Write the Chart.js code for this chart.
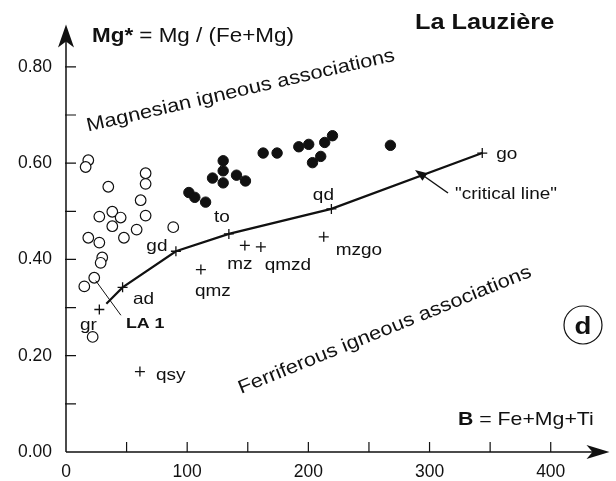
<!DOCTYPE html>
<html>
<head>
<meta charset="utf-8">
<script src="https://cdn.jsdelivr.net/npm/chart.js@4.4.1/dist/chart.umd.min.js"></script>
<style>
  html, body { margin: 0; padding: 0; background: #fff; }
  #wrap { width: 616px; height: 481px; }
</style>
</head>
<body>
<div id="wrap"><canvas id="chart" width="616" height="481"></canvas></div>
<script>
// ===== DATA =====
var xTicks = [0, 100, 200, 300, 400];
var yTicks = [0, 0.2, 0.4, 0.6, 0.8];

// open circles
var openX = [18.4, 16.2, 34.9, 65.7, 65.7, 61.6, 27.5, 38.2, 45.1, 65.7, 38.2, 58.3, 47.8, 18.4, 27.5, 88.5, 29.9, 28.6, 23.3, 15.1, 22.0];
var openY = [0.606, 0.592, 0.551, 0.579, 0.557, 0.523, 0.489, 0.499, 0.487, 0.491, 0.469, 0.462, 0.445, 0.445, 0.435, 0.467, 0.404, 0.393, 0.362, 0.344, 0.239];

// filled circles
var fullX = [101.4, 106.3, 115.2, 120.9, 129.7, 129.7, 129.7, 140.7, 148.1, 162.7, 174.2, 192.1, 200.3, 213.5, 219.9, 210.2, 203.4, 267.7];
var fullY = [0.539, 0.529, 0.519, 0.569, 0.605, 0.584, 0.559, 0.575, 0.563, 0.621, 0.621, 0.634, 0.639, 0.643, 0.657, 0.614, 0.601, 0.637];

// reference rocks (crosses)
var refNames = ['gr', 'ad', 'gd', 'to', 'qd', 'go', 'qmz', 'mz', 'qmzd', 'mzgo', 'qsy'];
var refX = [27.5, 46.7, 90.7, 134.4, 219.0, 343.5, 111.3, 147.6, 160.8, 212.7, 61.0];
var refY = [0.296, 0.342, 0.417, 0.453, 0.505, 0.621, 0.379, 0.429, 0.426, 0.447, 0.167];

// "critical line"
var lineX = [33.3, 46.7, 90.7, 134.4, 219.0, 343.5];
var lineY = [0.308, 0.342, 0.417, 0.453, 0.505, 0.621];

// LA 1 leader
var la1X = [24.5, 45.3];
var la1Y = [0.356, 0.284];

function toPoints(xs, ys) {
  return xs.map(function(x, i) { return { x: x, y: ys[i] }; });
}

// ===== TEXT HELPERS =====
var FONT = '"Liberation Sans", Arial, Helvetica, sans-serif';
var SX = 1.15; // the lettering in the figure is a bit wide

function drawParts(ctx, parts, x, y, angle, align) {
  ctx.save();
  ctx.translate(x, y);
  if (angle) ctx.rotate(angle * Math.PI / 180);
  ctx.scale(SX, 1);
  ctx.fillStyle = '#111';
  ctx.textBaseline = 'alphabetic';
  ctx.textAlign = 'left';
  var total = 0;
  parts.forEach(function(p) { ctx.font = p.font; total += ctx.measureText(p.text).width; });
  var cx = 0;
  if (align === 'center') cx = -total / 2;
  else if (align === 'right') cx = -total;
  parts.forEach(function(p) {
    ctx.font = p.font;
    ctx.fillText(p.text, cx, 0);
    cx += ctx.measureText(p.text).width;
  });
  ctx.restore();
}

function txt(ctx, text, x, y, size, bold, align, angle) {
  drawParts(ctx, [{ text: text, font: (bold ? 'bold ' : '') + size + 'px ' + FONT }], x, y, angle || 0, align || 'left');
}

// label offsets (pixels) from each cross: [dx, dy, align]
var labelPos = {
  gr: [-11, 20, 'center'], ad: [21, 17, 'center'], gd: [-19, 0, 'center'], to: [-7, -12, 'center'],
  qd: [-8, -9, 'center'], go: [14, 6, 'left'], qmz: [12, 26, 'center'], mz: [-5, 24, 'center'],
  qmzd: [27, 23, 'center'], mzgo: [12, 18, 'left'], qsy: [16, 8, 'left']
};

// ===== AXES / ANNOTATIONS PLUGIN =====
var axesPlugin = {
  id: 'axesPlugin',
  beforeDatasetsDraw: function(chart) {
    var ctx = chart.ctx, xs = chart.scales.x, ys = chart.scales.y;
    var x0 = xs.getPixelForValue(0), y0 = ys.getPixelForValue(0);
    var right = chart.chartArea.right, top = chart.chartArea.top;
    ctx.save();
    ctx.strokeStyle = '#111';
    ctx.fillStyle = '#111';
    ctx.lineWidth = 1.5;
    ctx.beginPath();
    ctx.moveTo(x0, y0); ctx.lineTo(right - 12, y0);
    ctx.moveTo(x0, y0); ctx.lineTo(x0, top + 12);
    ctx.stroke();
    // arrow heads
    ctx.beginPath();
    ctx.moveTo(right, y0); ctx.lineTo(right - 23, y0 - 7); ctx.lineTo(right - 17, y0); ctx.lineTo(right - 23, y0 + 7); ctx.closePath();
    ctx.fill();
    ctx.beginPath();
    ctx.moveTo(x0, top); ctx.lineTo(x0 - 8, top + 23); ctx.lineTo(x0, top + 17); ctx.lineTo(x0 + 8, top + 23); ctx.closePath();
    ctx.fill();
    // minor ticks, pointing inward
    ctx.lineWidth = 1.2;
    ctx.beginPath();
    for (var v = 50; v <= 400; v += 50) {
      var px = xs.getPixelForValue(v);
      ctx.moveTo(px, y0); ctx.lineTo(px, y0 - 10);
    }
    for (var k = 1; k <= 8; k++) {
      var py = ys.getPixelForValue(k / 10);
      ctx.moveTo(x0 - 1, py); ctx.lineTo(x0 + 10, py);
    }
    ctx.stroke();
    ctx.restore();
  },
  afterDatasetsDraw: function(chart) {
    var ctx = chart.ctx, xs = chart.scales.x, ys = chart.scales.y;

    // cross labels
    refNames.forEach(function(n, i) {
      var p = labelPos[n];
      txt(ctx, n, xs.getPixelForValue(refX[i]) + p[0], ys.getPixelForValue(refY[i]) + p[1], 16.5, false, p[2]);
    });
    txt(ctx, 'LA 1', xs.getPixelForValue(la1X[1]) + 5, ys.getPixelForValue(la1Y[1]) + 13, 15.5, true, 'left');

    // titles
    drawParts(ctx, [
      { text: 'Mg*', font: 'bold 19.5px ' + FONT },
      { text: ' = Mg / (Fe+Mg)', font: '19.5px ' + FONT }
    ], 92, 41.5, 0, 'left');
    txt(ctx, 'La Lauzière', 415, 29, 22, true, 'left');
    drawParts(ctx, [
      { text: 'B', font: 'bold 18.5px ' + FONT },
      { text: ' = Fe+Mg+Ti', font: '18.5px ' + FONT }
    ], 458, 425, 0, 'left');

    txt(ctx, 'Magnesian igneous associations', 88, 131.5, 19, false, 'left', -13);
    txt(ctx, 'Ferriferous igneous associations', 241, 394, 19, false, 'left', -22);

    // critical line callout
    txt(ctx, '"critical line"', 455, 199, 16.5, false, 'left');
    ctx.save();
    ctx.strokeStyle = '#111'; ctx.fillStyle = '#111'; ctx.lineWidth = 1.5;
    ctx.beginPath(); ctx.moveTo(448, 193); ctx.lineTo(421, 174); ctx.stroke();
    var ang = Math.atan2(170 - 193, 415 - 448);
    ctx.beginPath();
    ctx.moveTo(415, 170);
    ctx.lineTo(415 - 13 * Math.cos(ang - 0.35), 170 - 13 * Math.sin(ang - 0.35));
    ctx.lineTo(415 - 13 * Math.cos(ang + 0.35), 170 - 13 * Math.sin(ang + 0.35));
    ctx.closePath(); ctx.fill();

    // panel letter
    ctx.lineWidth = 1.2;
    ctx.beginPath(); ctx.arc(583, 325, 19, 0, Math.PI * 2); ctx.stroke();
    ctx.restore();
    txt(ctx, 'd', 583, 334, 24, true, 'center');
  }
};

// ===== CHART =====
var ctx = document.getElementById('chart');
new Chart(ctx, {
  type: 'scatter',
  data: {
    datasets: [
      {
        label: 'critical line', type: 'line', data: toPoints(lineX, lineY),
        borderColor: '#111', borderWidth: 2.2, pointRadius: 0, fill: false, tension: 0
      },
      {
        label: 'LA 1', type: 'line', data: toPoints(la1X, la1Y),
        borderColor: '#111', borderWidth: 1, pointRadius: 0, fill: false
      },
      {
        label: 'open', data: toPoints(openX, openY),
        pointStyle: 'circle', pointRadius: 5.3, backgroundColor: '#fff', borderColor: '#111', borderWidth: 1.2
      },
      {
        label: 'filled', data: toPoints(fullX, fullY),
        pointStyle: 'circle', pointRadius: 5.2, backgroundColor: '#111', borderColor: '#111', borderWidth: 1
      },
      {
        label: 'reference', data: toPoints(refX, refY),
        pointStyle: 'cross', pointRadius: 5, borderColor: '#111', borderWidth: 1.3
      }
    ]
  },
  options: {
    responsive: false,
    animation: false,
    devicePixelRatio: 1,
    layout: { padding: { top: 8, right: 6, left: 0, bottom: 0 } },
    plugins: { legend: { display: false }, tooltip: { enabled: false } },
    scales: {
      x: {
        type: 'linear', min: 0, max: 448.5,
        afterBuildTicks: function(s) { s.ticks = xTicks.map(function(v) { return { value: v }; }); },
        afterFit: function(s) { s.height = 29; },
        grid: { display: false, drawTicks: false },
        border: { display: false },
        ticks: { color: '#111', padding: 10, maxRotation: 0, autoSkip: false, font: { family: FONT, size: 17.5 } }
      },
      y: {
        type: 'linear', min: 0, max: 0.888,
        afterBuildTicks: function(s) { s.ticks = yTicks.map(function(v) { return { value: v }; }); },
        afterFit: function(s) { s.width = 66; },
        grid: { display: false, drawTicks: false },
        border: { display: false },
        ticks: {
          color: '#111', padding: 14, autoSkip: false, font: { family: FONT, size: 17.5 },
          callback: function(v) { return Number(v).toFixed(2); }
        }
      }
    }
  },
  plugins: [axesPlugin]
});
</script>
</body>
</html>
